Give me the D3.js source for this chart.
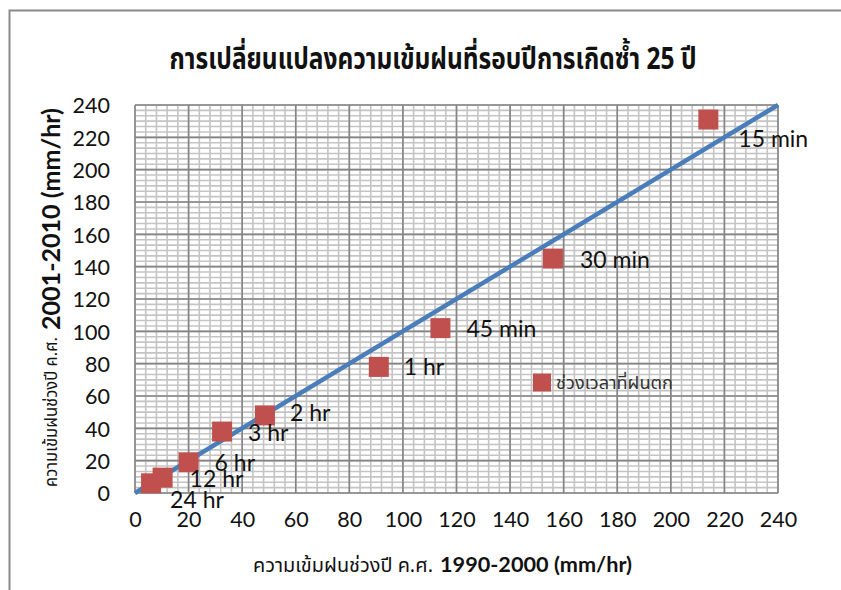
<!DOCTYPE html>
<html>
<head>
<meta charset="utf-8">
<script src="https://cdn.jsdelivr.net/npm/d3@7"></script>
<style>
  html, body { margin: 0; padding: 0; background: #fff; }
  svg { display: block; }
</style>
</head>
<body>
<svg id="chart" width="841" height="590"></svg>
<script>
// Rainfall intensity, 25-year return period: 1990-2000 (x) vs 2001-2010 (y), mm/hr
const durations = ["15 min", "30 min", "45 min", "1 hr", "2 hr", "3 hr", "6 hr", "12 hr", "24 hr"];
const intensity1990 = [214, 156, 114, 91, 48.5, 32.5, 20, 10.3, 6];
const intensity2001 = [231, 145, 102, 78, 48, 38, 19, 9.5, 6];
const tickValues = [0, 20, 40, 60, 80, 100, 120, 140, 160, 180, 200, 220, 240];
const axisMax = 240;
const legendLabel = "ช่วงเวลาที่ฝนตก";
const titleText = "การเปลี่ยนแปลงความเข้มฝนที่รอบปีการเกิดซ้ำ 25 ปี";
const axisTitlePrefix = "ความเข้มฝนช่วงปี ค.ศ.";
const xTitleMain = "1990-2000 (mm/hr)";
const yTitleMain = "2001-2010 (mm/hr)";

// label placement relative to each marker centre (left edge, baseline)
const labelOffsets = [[30, 27], [27, 9], [26, 9], [25, 8], [25, 6], [26, 9], [26, 9], [27, 9], [19, 25]];

const latin = "Lato, 'Open Sans', sans-serif";
const thai = "'Noto Sans Thai', 'Noto Sans', 'DejaVu Sans', sans-serif";

const svg = d3.select("#chart");
const x = d3.scaleLinear().domain([0, axisMax]).range([135, 778]);
const y = d3.scaleLinear().domain([0, axisMax]).range([493, 105]);

// outer chart frame (top and left edges visible)
svg.append("path")
  .attr("d", "M9.5,590 V10.5 H841")
  .attr("fill", "none").attr("stroke", "#8a8a8a").attr("stroke-width", 2);

// grid: minor lines then major lines
const grid = svg.append("g");
const xMinor = d3.range(0, axisMax + 0.001, 4);
const yMinor = d3.range(0, 73).map(i => i * axisMax / 72);
grid.selectAll("line.xm").data(xMinor).join("line")
  .attr("x1", d => x(d)).attr("x2", d => x(d))
  .attr("y1", y(0)).attr("y2", y(axisMax))
  .attr("stroke", "#c4c4c4").attr("stroke-width", 1.6);
grid.selectAll("line.ym").data(yMinor).join("line")
  .attr("x1", x(0)).attr("x2", x(axisMax))
  .attr("y1", d => y(d)).attr("y2", d => y(d))
  .attr("stroke", "#c4c4c4").attr("stroke-width", 1.6);
grid.selectAll("line.xM").data(tickValues).join("line")
  .attr("x1", d => x(d)).attr("x2", d => x(d))
  .attr("y1", y(0)).attr("y2", y(axisMax))
  .attr("stroke", "#858585").attr("stroke-width", 1.6);
grid.selectAll("line.yM").data(tickValues).join("line")
  .attr("x1", x(0)).attr("x2", x(axisMax))
  .attr("y1", d => y(d)).attr("y2", d => y(d))
  .attr("stroke", "#858585").attr("stroke-width", 1.6);

// axes (labels only, lines are the grid frame)
const xAxis = svg.append("g")
  .attr("transform", `translate(0,${y(0)})`)
  .call(d3.axisBottom(x).tickValues(tickValues).tickSize(0).tickPadding(14));
const yAxis = svg.append("g")
  .attr("transform", `translate(${x(0)},0)`)
  .call(d3.axisLeft(y).tickValues(tickValues).tickSize(0).tickPadding(25));
[xAxis, yAxis].forEach(g => {
  g.select(".domain").remove();
  g.selectAll("text").attr("font-family", latin).attr("font-size", 21.5).attr("fill", "#111");
});
xAxis.selectAll("text").attr("dy", "0.95em");
yAxis.selectAll("text").attr("dy", "0.36em");

// 1:1 reference line
svg.append("line")
  .attr("x1", x(0)).attr("y1", y(0))
  .attr("x2", x(axisMax)).attr("y2", y(axisMax))
  .attr("stroke", "#4a7ebb").attr("stroke-width", 4.5).attr("stroke-linecap", "butt");

// markers
const pts = durations.map((d, i) => ({ name: d, vx: intensity1990[i], vy: intensity2001[i], off: labelOffsets[i] }));
const ms = 20;
svg.append("g").selectAll("rect").data(pts).join("rect")
  .attr("x", d => x(d.vx) - ms / 2).attr("y", d => y(d.vy) - ms / 2)
  .attr("width", ms).attr("height", ms)
  .attr("fill", "#c0504d");

// data labels
svg.append("g").selectAll("text").data(pts).join("text")
  .attr("x", d => x(d.vx) + d.off[0]).attr("y", d => y(d.vy) + d.off[1])
  .attr("font-family", latin).attr("font-size", 23).attr("fill", "#111")
  .text(d => d.name);

// legend
svg.append("rect").attr("x", 533).attr("y", 373.5).attr("width", 18).attr("height", 18).attr("fill", "#c0504d");
svg.append("text").attr("x", 556).attr("y", 389)
  .attr("font-family", thai).attr("font-size", 17).attr("fill", "#333")
  .attr("textLength", 117).attr("lengthAdjust", "spacingAndGlyphs")
  .text(legendLabel);

// chart title
svg.append("text").attr("x", 433).attr("y", 69).attr("text-anchor", "middle")
  .attr("font-family", thai).attr("font-weight", "bold").attr("font-size", 30).attr("fill", "#111")
  .attr("textLength", 527).attr("lengthAdjust", "spacingAndGlyphs")
  .text(titleText);

// x axis title: Thai prefix in regular weight, years and unit in bold
svg.append("text").attr("x", 253).attr("y", 572)
  .attr("font-family", thai).attr("font-size", 19).attr("fill", "#111")
  .attr("textLength", 180).attr("lengthAdjust", "spacingAndGlyphs")
  .text(axisTitlePrefix);
svg.append("text").attr("x", 440).attr("y", 572)
  .attr("font-family", latin).attr("font-weight", "bold").attr("font-size", 21.5).attr("fill", "#111")
  .attr("textLength", 192).attr("lengthAdjust", "spacingAndGlyphs")
  .text(xTitleMain);

// y axis title, reading upward
const yTitle = svg.append("g").attr("transform", "rotate(-90)");
yTitle.append("text").attr("x", -487).attr("y", 57)
  .attr("font-family", thai).attr("font-size", 17).attr("fill", "#111")
  .attr("textLength", 150).attr("lengthAdjust", "spacingAndGlyphs")
  .text(axisTitlePrefix);
yTitle.append("text").attr("x", -330).attr("y", 60)
  .attr("font-family", latin).attr("font-weight", "bold").attr("font-size", 24).attr("fill", "#111")
  .attr("textLength", 222).attr("lengthAdjust", "spacingAndGlyphs")
  .text(yTitleMain);
</script>
</body>
</html>
